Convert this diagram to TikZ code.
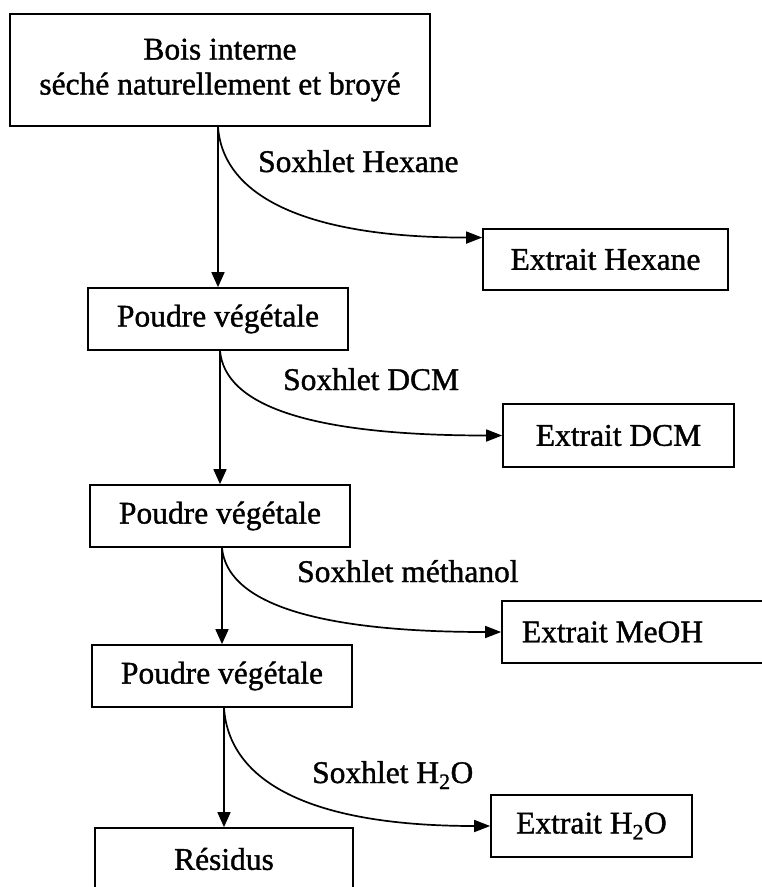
\documentclass[tikz,border=0pt]{standalone}
\usepackage{fontspec}
\setmainfont{Liberation Serif}[BoldFont=Liberation Serif,BoldFeatures={FakeBold=1.2}]
\usetikzlibrary{arrows.meta,calc}
\begin{document}
\begin{tikzpicture}[x=1pt,y=-1pt,
  box/.style={draw,line width=1.7pt,inner sep=0pt,align=center,
    font=\fontsize{31.5}{35}\selectfont\bfseries},
  lbl/.style={anchor=base west,inner sep=0pt,font=\fontsize{31.5}{35}\selectfont\bfseries},
  arr/.style={line width=1.7pt,-{Triangle[length=15pt,width=13pt]}},
  flow/.style={line width=1.7pt,-{Triangle[length=16pt,width=12pt]}}]
\useasboundingbox (0,0) rectangle (762,887);
\clip (0,0) rectangle (762,887);
% main column
\node[box,minimum width=420pt,minimum height=112pt] (bois) at (220,70)
  {Bois interne\\séché naturellement et broyé};
\node[box,minimum width=260pt,minimum height=62pt] (p1) at (218,319) {Poudre végétale};
\node[box,minimum width=260pt,minimum height=62pt] (p2) at (220,516) {Poudre végétale};
\node[box,minimum width=260pt,minimum height=62pt] (p3) at (222,676) {Poudre végétale};
\node[box,minimum width=258pt,minimum height=62pt] (res) at (224,859) {Résidus};
% extracts
\node[box,minimum width=245pt,minimum height=61pt] (ehex) at (605.5,259.5) {Extrait Hexane};
\node[box,minimum width=231pt,minimum height=63pt] (edcm) at (618.5,435.5) {Extrait DCM};
\node[box,minimum height=62pt,inner xsep=20pt,text width=230pt,align=flush left] (emeoh) at (637,632) {Extrait MeOH};
\node[box,minimum width=201pt,minimum height=62pt] (eh2o) at (591.5,826) {Extrait H\textsubscript{2}O};
% labels
\node[lbl] (l1) at (258,172) {Soxhlet Hexane};
\node[lbl] (l2) at (283,390) {Soxhlet DCM};
\node[lbl] (l3) at (297,582) {Soxhlet méthanol};
\node[lbl] (l4) at (312,783) {Soxhlet H\textsubscript{2}O};
% vertical arrows
\draw[arr] (p1.north |- bois.south) -- (p1.north);
\draw[arr] (p2.north |- p1.south) -- (p2.north);
\draw[arr] (p3.north |- p2.south) -- (p3.north);
\draw[arr] (res.north |- p3.south) -- (res.north);
% curved arrows
\coordinate (h) at ($(ehex.north west)!0.15!(ehex.south west)$);
\draw[flow] (p1.north |- bois.south) .. controls +(5,70) and +(-175,0) .. (h);
\draw[flow] (p2.north |- p1.south) .. controls +(5,54) and +(-195,0) .. (edcm.west);
\draw[flow] (p3.north |- p2.south) .. controls +(5,53) and +(-192,0) .. (emeoh.west);
\draw[flow] (res.north |- p3.south) .. controls +(5,74) and +(-180,0) .. (eh2o.west);
\end{tikzpicture}
\end{document}
